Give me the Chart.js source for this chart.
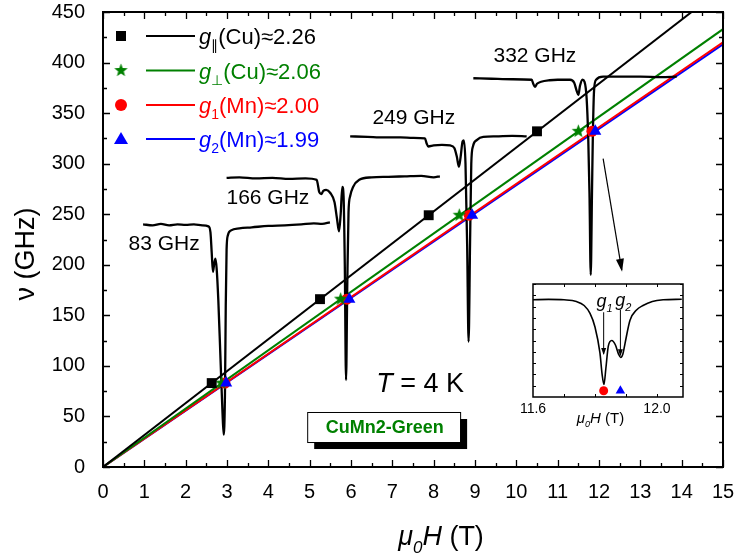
<!DOCTYPE html>
<html><head><meta charset="utf-8">
<script src="https://cdn.jsdelivr.net/npm/chart.js@4/dist/chart.umd.min.js"></script>
<style>
html,body{margin:0;padding:0;background:#fff;}
#wrap{position:relative;width:734px;height:557px;overflow:hidden;}
canvas{position:absolute;}
</style>
</head><body>
<div id="wrap">
<canvas id="main" width="734" height="557" style="left:0;top:0;width:734px;height:557px"></canvas>
<canvas id="inset" width="190" height="160" style="left:513px;top:274px;width:190px;height:160px"></canvas>
</div>
<script>
// ---------- data ----------
const frequencies = [83, 166, 249, 332];            // GHz
const hGparCu  = [2.63, 5.25, 7.88, 10.50];          // black squares (T)
const hGperpCu = [2.87, 5.75, 8.62, 11.50];          // green stars
const hG1Mn    = [2.95, 5.90, 8.86, 11.83];          // red circles
const hG2Mn    = [2.98, 5.96, 8.93, 11.91];          // blue triangles

const lineH       = [0, 15];
const lineParCu   = [0, 474];
const linePerpCu  = [0, 433];
const lineG1Mn    = [0, 420];
const lineG2Mn    = [0, 418];

const spec83 = [[0.97,240],[1.2,239],[1.4,240.5],[1.6,239],[1.8,240],[2.0,239.5],[2.2,240],[2.4,239],[2.55,238],[2.6,232],[2.63,212],[2.66,193],[2.69,201],[2.72,206],[2.75,196],[2.79,165],[2.84,110],[2.89,55],[2.92,32],[2.95,70],[2.97,160],[2.99,215],[3.02,229],[3.1,234],[3.3,236],[3.6,237],[4.0,238.5],[4.4,239],[4.8,240],[5.1,241],[5.3,240.5],[5.49,242]];
const spec166 = [[2.99,286],[3.3,286.5],[3.7,285.5],[4.1,286],[4.5,285],[4.9,285.5],[5.17,284],[5.2,279],[5.23,272],[5.28,270],[5.33,273],[5.4,274],[5.5,271],[5.6,262],[5.66,246],[5.71,233],[5.75,250],[5.79,277],[5.82,268],[5.85,200],[5.88,86],[5.91,180],[5.94,252],[5.98,268],[6.05,277],[6.2,284],[6.5,286.5],[6.9,287],[7.3,287.5],[7.7,288],[8.0,286.5],[8.15,287.5]];
const spec249 = [[5.98,327],[6.4,326.5],[6.8,326],[7.2,326],[7.5,325.5],[7.79,325],[7.83,320],[7.87,317],[8.0,318],[8.2,318.5],[8.4,318],[8.5,315.5],[8.56,307],[8.61,297],[8.65,306],[8.7,322],[8.73,323],[8.77,300],[8.81,220],[8.845,124],[8.88,220],[8.91,300],[8.95,317],[9.05,323.5],[9.2,326.5],[9.5,327],[9.9,327.5],[10.25,327]];
const spec332 = [[8.96,384.5],[9.4,384],[9.9,383.5],[10.37,383],[10.41,379],[10.45,376],[10.5,379],[10.6,381],[10.8,382.5],[11.0,383],[11.3,383],[11.4,380],[11.46,372],[11.5,368],[11.54,377],[11.6,383],[11.65,381],[11.7,365],[11.74,325],[11.77,270],[11.8,190],[11.83,270],[11.85,325],[11.88,372],[11.93,383],[12.1,386],[12.5,386],[13.0,386],[13.5,385.5],[13.88,386]];

// inset (zoom of 332 GHz line)
const insetSpec = [[11.6,0.86],[11.65,0.864],[11.7,0.86],[11.74,0.845],[11.765,0.81],[11.784,0.74],[11.8,0.62],[11.816,0.39],[11.823,0.2],[11.829,0.11],[11.835,0.25],[11.843,0.45],[11.854,0.5],[11.866,0.46],[11.876,0.38],[11.883,0.35],[11.89,0.38],[11.897,0.475],[11.913,0.68],[11.934,0.77],[11.955,0.81],[11.985,0.845],[12.02,0.86],[12.08,0.865]];
const insetG1 = [11.828];
const insetG2 = [11.882];
const insetMarkerY = [0.055];
const insetTickLabels = ['11.6', '12.0'];

const xTickLabels = ['0','1','2','3','4','5','6','7','8','9','10','11','12','13','14','15'];
const yTickLabels = ['0','50','100','150','200','250','300','350','400','450'];

const GREEN = '#008000', RED = '#ff0000', BLUE = '#0000ff', BLACK = '#000000';
const FONT = '"Liberation Sans", Arial, Helvetica, sans-serif';

// ---------- helpers ----------
function pts(xs, ys){ return xs.map((x,i)=>({x:x, y:ys[i]})); }
function pairs(a){ return a.map(p=>({x:p[0], y:p[1]})); }

function makeStar(color, size){
  const c = document.createElement('canvas');
  c.width = size; c.height = size;
  const g = c.getContext('2d');
  const cx = size/2, cy = size/2, R = size/2 - 0.5, r = R*0.42;
  g.beginPath();
  for (let i=0;i<10;i++){
    const a = -Math.PI/2 + i*Math.PI/5;
    const rr = i%2===0 ? R : r;
    g.lineTo(cx + rr*Math.cos(a), cy + rr*Math.sin(a));
  }
  g.closePath(); g.fillStyle = color; g.fill();
  return c;
}
const starImg = makeStar(GREEN, 15);

function richWidth(ctx, parts, size){
  let w = 0;
  for (const p of parts){
    ctx.font = (p.it?'italic ':'') + (p.b?'bold ':'') + (p.sub? Math.round(size*0.62): size) + 'px ' + FONT;
    w += ctx.measureText(p.t).width;
  }
  return w;
}
function drawRich(ctx, parts, x, y, size, color, align){
  ctx.save();
  ctx.fillStyle = color; ctx.textBaseline = 'alphabetic'; ctx.textAlign = 'left';
  let cx = x;
  if (align === 'center') cx = x - richWidth(ctx, parts, size)/2;
  for (const p of parts){
    const s = p.sub ? Math.round(size*0.62) : size;
    ctx.font = (p.it?'italic ':'') + (p.b?'bold ':'') + s + 'px ' + FONT;
    ctx.fillText(p.t, cx, y + (p.sub ? size*0.28 : 0));
    cx += ctx.measureText(p.t).width;
  }
  ctx.restore();
}

// ---------- main chart plugin ----------
const mainOverlay = {
  id: 'mainOverlay',
  beforeDraw(chart){
    const ctx = chart.ctx;
    ctx.save(); ctx.fillStyle = '#fff'; ctx.fillRect(0,0,chart.width,chart.height); ctx.restore();
  },
  afterDatasetsDraw(chart){
    const ctx = chart.ctx, a = chart.chartArea, xs = chart.scales.x, ys = chart.scales.y;
    ctx.save();
    ctx.strokeStyle = '#000'; ctx.lineWidth = 1.3;
    ctx.beginPath();
    for (let v=0; v<=15.001; v+=0.5){
      const px = Math.round(xs.getPixelForValue(v))+0.5;
      const L = (Math.abs(v-Math.round(v))<1e-6) ? 7 : 4;
      ctx.moveTo(px, a.bottom); ctx.lineTo(px, a.bottom-L);
      ctx.moveTo(px, a.top); ctx.lineTo(px, a.top+L);
    }
    for (let v=0; v<=450.001; v+=25){
      const py = Math.round(ys.getPixelForValue(v))+0.5;
      const L = (v%50===0) ? 7 : 4;
      ctx.moveTo(a.left, py); ctx.lineTo(a.left+L, py);
      ctx.moveTo(a.right, py); ctx.lineTo(a.right-L, py);
    }
    ctx.stroke();
    ctx.lineWidth = 2;
    ctx.strokeRect(a.left, a.top, a.right-a.left, a.bottom-a.top);

    ctx.fillStyle = '#000'; ctx.font = '21px ' + FONT; ctx.textAlign='center'; ctx.textBaseline='middle';
    const lab = [['83 GHz',1.48,220.6],['166 GHz',3.99,266],['249 GHz',7.52,345],['332 GHz',10.45,406.5]];
    for (const l of lab) ctx.fillText(l[0], xs.getPixelForValue(l[1]), ys.getPixelForValue(l[2]));

    drawRich(ctx, [{t:'T',it:true},{t:' = 4 K'}], xs.getPixelForValue(7.67), ys.getPixelForValue(84)+10, 27, '#000', 'center');

    const bx0 = xs.getPixelForValue(4.94), bx1 = xs.getPixelForValue(8.64);
    const by0 = ys.getPixelForValue(54.4), by1 = ys.getPixelForValue(24.7);
    ctx.fillStyle = '#000'; ctx.fillRect(bx0+7, by0+7, bx1-bx0, by1-by0);
    ctx.fillStyle = '#fff'; ctx.fillRect(bx0, by0, bx1-bx0, by1-by0);
    ctx.strokeStyle = '#000'; ctx.lineWidth = 1; ctx.strokeRect(bx0+0.5, by0+0.5, bx1-bx0, by1-by0);
    ctx.fillStyle = GREEN; ctx.font = 'bold 18px ' + FONT; ctx.textAlign='center'; ctx.textBaseline='middle';
    ctx.fillText('CuMn2-Green', (bx0+bx1)/2+1, (by0+by1)/2+1);

    const ax0 = xs.getPixelForValue(12.10), ay0 = ys.getPixelForValue(305);
    const ax1 = xs.getPixelForValue(12.55), ay1 = ys.getPixelForValue(195);
    ctx.strokeStyle='#000'; ctx.lineWidth=1.2;
    ctx.beginPath(); ctx.moveTo(ax0,ay0); ctx.lineTo(ax1,ay1); ctx.stroke();
    const ang = Math.atan2(ay1-ay0, ax1-ax0);
    ctx.beginPath(); ctx.moveTo(ax1+2*Math.cos(ang), ay1+2*Math.sin(ang));
    ctx.lineTo(ax1-11*Math.cos(ang)+4*Math.sin(ang), ay1-11*Math.sin(ang)-4*Math.cos(ang));
    ctx.lineTo(ax1-11*Math.cos(ang)-4*Math.sin(ang), ay1-11*Math.sin(ang)+4*Math.cos(ang));
    ctx.closePath(); ctx.fillStyle='#000'; ctx.fill();

    const rows = [
      {c:BLACK, m:'rect', parts:[{t:'g',it:true},{t:'\u2225',sub:true},{t:'(Cu)\u22482.26'}]},
      {c:GREEN, m:'star', parts:[{t:'g',it:true},{t:'\u22a5',sub:true},{t:'(Cu)\u22482.06'}]},
      {c:RED,   m:'circle', parts:[{t:'g',it:true},{t:'1',sub:true},{t:'(Mn)\u22482.00'}]},
      {c:BLUE,  m:'tri', parts:[{t:'g',it:true},{t:'2',sub:true},{t:'(Mn)\u22481.99'}]}
    ];
    const rowY = [36, 70.5, 105, 139];
    rows.forEach((r,i)=>{
      const y = rowY[i];
      ctx.fillStyle = r.c;
      if (r.m==='rect') ctx.fillRect(116, y-5, 10, 10);
      else if (r.m==='star') ctx.drawImage(starImg, 121-7.5, y-7.5);
      else if (r.m==='circle'){ ctx.beginPath(); ctx.arc(121, y, 6, 0, 2*Math.PI); ctx.fill(); }
      else { ctx.beginPath(); ctx.moveTo(121, y-7); ctx.lineTo(128, y+5); ctx.lineTo(114, y+5); ctx.closePath(); ctx.fill(); }
      ctx.strokeStyle = r.c; ctx.lineWidth = 2;
      ctx.beginPath(); ctx.moveTo(146, y); ctx.lineTo(195, y); ctx.stroke();
      drawRich(ctx, r.parts, 199, y+8, 22, r.c, 'left');
    });

    drawRich(ctx, [{t:'\u03bc',it:true},{t:'0',it:true,sub:true},{t:'H',it:true},{t:' (T)'}], 441, 545, 27, '#000', 'center');
    ctx.save();
    ctx.translate(34, 254); ctx.rotate(-Math.PI/2);
    drawRich(ctx, [{t:'\u03bd'},{t:' (GHz)'}], 0, 0, 27, '#000', 'center');
    ctx.restore();
    ctx.restore();
  }
};

const lineDs = (data, color) => ({type:'line', data, borderColor:color, borderWidth:2, pointRadius:0, showLine:true, fill:false, order:4, tension:0});
const specDs = (data) => ({type:'line', data: pairs(data), borderColor:'#000', borderWidth:2.3, pointRadius:0, showLine:true, fill:false, order:3, cubicInterpolationMode:'monotone'});
const markDs = (data, color, style, r, ord) => ({type:'scatter', data, backgroundColor:color, borderColor:color, borderWidth:0, pointStyle:style, pointRadius:r, showLine:false, order:ord});

const mainChart = new Chart(document.getElementById('main'), {
  type: 'scatter',
  data: {
    datasets: [
      lineDs(pts(lineH, lineParCu), BLACK),
      lineDs(pts(lineH, linePerpCu), GREEN),
      lineDs(pts(lineH, lineG1Mn), RED),
      lineDs(pts(lineH, lineG2Mn), BLUE),
      specDs(spec83), specDs(spec166), specDs(spec249), specDs(spec332),
      markDs(pts(hGparCu, frequencies), BLACK, 'rect', 7, 2),
      markDs(pts(hGperpCu, frequencies), GREEN, starImg, 7, 2),
      markDs(pts(hG1Mn, frequencies), RED, 'circle', 5.5, 2),
      markDs(pts(hG2Mn, frequencies), BLUE, 'triangle', 7, 1)
    ]
  },
  options: {
    responsive: false, devicePixelRatio: 1, animation: false,
    layout: { padding: { top: 12, right: 11, left: 0, bottom: 0 } },
    plugins: { legend: {display:false}, tooltip: {enabled:false} },
    scales: {
      x: { type:'linear', min:0, max:15,
        grid:{display:false}, border:{display:false},
        ticks:{ stepSize:1, color:'#000', padding:5, maxRotation:0, autoSkip:false,
          font:{family:FONT, size:20}, callback:(v)=> xTickLabels[Math.round(v)] ?? '' },
        afterFit:(s)=>{ s.height = 90; s.paddingLeft = 0; s.paddingRight = 0; } },
      y: { type:'linear', min:0, max:450,
        grid:{display:false}, border:{display:false},
        ticks:{ stepSize:50, color:'#000', padding:10, autoSkip:false,
          font:{family:FONT, size:20}, callback:(v)=> yTickLabels[Math.round(v/50)] ?? '' },
        afterFit:(s)=>{ s.width = 103; s.paddingTop = 0; s.paddingBottom = 0; } }
    }
  },
  plugins: [mainOverlay]
});

// ---------- inset chart ----------
const insetOverlay = {
  id: 'insetOverlay',
  beforeDatasetsDraw(chart){
    const ctx = chart.ctx, a = chart.chartArea;
    ctx.save(); ctx.fillStyle='#fff'; ctx.fillRect(a.left, a.top, a.right-a.left, a.bottom-a.top); ctx.restore();
  },
  afterDatasetsDraw(chart){
    const ctx = chart.ctx, a = chart.chartArea, xs = chart.scales.x, ys = chart.scales.y;
    ctx.save();
    ctx.strokeStyle='#000'; ctx.lineWidth=1;
    ctx.beginPath();
    for (let v=0.1; v<1; v+=0.1){
      const py = Math.round(ys.getPixelForValue(v))+0.5;
      ctx.moveTo(a.left, py); ctx.lineTo(a.left+3, py);
      ctx.moveTo(a.right, py); ctx.lineTo(a.right-3, py);
    }
    for (let v=11.7; v<12.08; v+=0.1){
      const px = Math.round(xs.getPixelForValue(v))+0.5;
      ctx.moveTo(px, a.bottom); ctx.lineTo(px, a.bottom-3);
      ctx.moveTo(px, a.top); ctx.lineTo(px, a.top+3);
    }
    ctx.stroke();
    ctx.lineWidth = 1.5;
    ctx.strokeRect(a.left, a.top, a.right-a.left, a.bottom-a.top);
    const arr = (xv, y0, y1) => {
      const px = xs.getPixelForValue(xv), p0 = ys.getPixelForValue(y0), p1 = ys.getPixelForValue(y1);
      ctx.lineWidth = 1; ctx.beginPath(); ctx.moveTo(px, p0); ctx.lineTo(px, p1); ctx.stroke();
      ctx.beginPath(); ctx.moveTo(px, p1+1); ctx.lineTo(px-2.5, p1-6); ctx.lineTo(px+2.5, p1-6); ctx.closePath(); ctx.fillStyle='#000'; ctx.fill();
    };
    arr(insetG1[0], 0.75, 0.38);
    arr(insetG2[0], 0.77, 0.37);
    drawRich(ctx, [{t:'g',it:true},{t:'1',it:true,sub:true}], xs.getPixelForValue(insetG1[0])+1, a.top+23, 18, '#000', 'center');
    drawRich(ctx, [{t:'g',it:true},{t:'2',it:true,sub:true}], xs.getPixelForValue(insetG2[0])+3, a.top+22, 18, '#000', 'center');
    ctx.fillStyle='#000'; ctx.font='14px '+FONT; ctx.textAlign='center'; ctx.textBaseline='alphabetic';
    ctx.fillText(insetTickLabels[0], xs.getPixelForValue(11.6), a.bottom+16);
    ctx.fillText(insetTickLabels[1], xs.getPixelForValue(12.0), a.bottom+16);
    drawRich(ctx, [{t:'\u03bc',it:true},{t:'0',it:true,sub:true},{t:'H',it:true},{t:' (T)'}], xs.getPixelForValue(11.818), a.bottom+26, 15, '#000', 'center');
    ctx.restore();
  }
};

const insetChart = new Chart(document.getElementById('inset'), {
  type: 'scatter',
  data: { datasets: [
    {type:'line', data: pairs(insetSpec), borderColor:'#000', borderWidth:1.6, pointRadius:0, showLine:true, fill:false, cubicInterpolationMode:'monotone', order:2},
    {type:'scatter', data: pts(insetG1, insetMarkerY), backgroundColor:RED, borderWidth:0, pointStyle:'circle', pointRadius:4.5, order:1},
    {type:'scatter', data: pts(insetG2, insetMarkerY), backgroundColor:BLUE, borderWidth:0, pointStyle:'triangle', pointRadius:5.5, order:1}
  ]},
  options: {
    responsive:false, devicePixelRatio:1, animation:false,
    layout:{ padding:{ left:20, top:10, right:20, bottom:37 } },
    plugins:{ legend:{display:false}, tooltip:{enabled:false} },
    scales:{
      x:{ type:'linear', min:11.6, max:12.084, display:false },
      y:{ type:'linear', min:0, max:1, display:false }
    }
  },
  plugins:[insetOverlay]
});
</script>
</body></html>
